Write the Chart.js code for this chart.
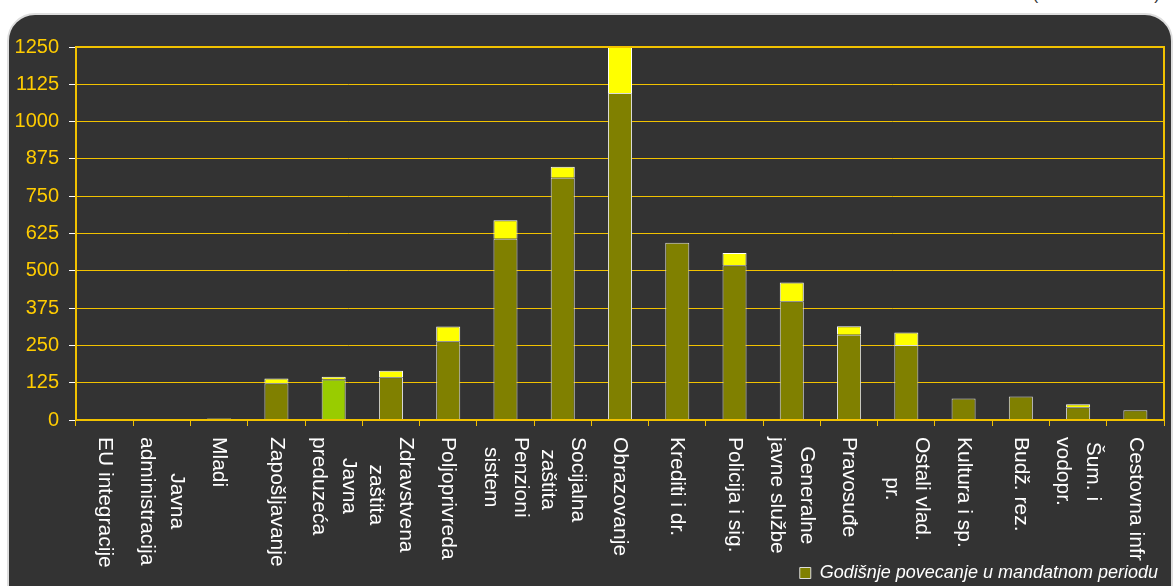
<!DOCTYPE html>
<html><head><meta charset="utf-8">
<script src="https://cdn.jsdelivr.net/npm/chart.js@4.4.1/dist/chart.umd.min.js"></script>
<style>
html,body{margin:0;padding:0;background:#fff;overflow:hidden;width:1173px;height:586px;}
#frame{position:absolute;left:7px;top:13px;width:1166px;height:620px;background:#333333;border:2px solid #dedede;border-radius:28px;box-sizing:border-box;}
#unit{position:absolute;right:13px;top:-14px;font:17px 'Liberation Sans',Arial,sans-serif;line-height:17px;color:#333;white-space:nowrap;}
#wrap{position:absolute;left:0;top:0;width:1173px;height:592px;}
</style></head>
<body>
<div id="frame"></div>
<div id="unit">(u milionima KM)</div>
<div id="wrap"><canvas id="c"></canvas></div>
<script>
// ---- data ----
const categoryLabels = [
  ['EU integracije'],
  ['Javna', 'administracija'],
  ['Mladi'],
  ['Zapošljavanje'],
  ['Javna', 'preduzeća'],
  ['Zdravstvena', 'zaštita'],
  ['Poljoprivreda'],
  ['Penzioni', 'sistem'],
  ['Socijalna', 'zaštita'],
  ['Obrazovanje'],
  ['Krediti i dr.'],
  ['Policija i sig.'],
  ['Generalne', 'javne službe'],
  ['Pravosuđe'],
  ['Ostali vlad.', 'pr.'],
  ['Kultura i sp.'],
  ['Budž. rez.'],
  ['Šum. i', 'vodopr.'],
  ['Cestovna infr']
];
const baseValues     = [0, 0, 4, 123, 136, 143, 264, 607, 812, 1096, 594, 519, 398, 286, 251, 72, 79, 43, 33];
const increaseValues = [0, 0, 2, 16, 9, 22, 49, 62, 37, 154, 0, 41, 63, 28, 42, 0, 0, 10, 0];
const yTicks = [0, 125, 250, 375, 500, 625, 750, 875, 1000, 1125, 1250];
const legendText = 'Godišnje povecanje u mandatnom periodu';
const highlightedCategory = 'Javna preduzeća';

// ---- styling ----
const FAMILY = '"Liberation Sans", Arial, sans-serif';
const GOLD = '#F2C200';
const nz = v => (v === 0 ? null : v);

const xLabelPlugin = {
  id: 'xLabels',
  afterDraw(chart) {
    const {ctx, chartArea, scales: {x}} = chart;
    ctx.save();
    ctx.font = '21px ' + FAMILY;
    ctx.fillStyle = '#ffffff';
    ctx.textAlign = 'center';
    ctx.textBaseline = 'middle';
    const lh = 30;
    categoryLabels.forEach((lines, i) => {
      const px = x.getPixelForValue(i);
      const maxW = Math.max(...lines.map(l => ctx.measureText(l).width));
      const cy = chartArea.bottom + 17 + maxW / 2;
      ctx.save();
      ctx.translate(px, cy);
      ctx.rotate(Math.PI / 2);
      lines.forEach((l, j) => ctx.fillText(l, 0, (j - (lines.length - 1) / 2) * lh));
      ctx.restore();
    });
    ctx.restore();
  }
};

const framePlugin = {
  id: 'plotFrame',
  afterDatasetsDraw(chart) {
    const {ctx, chartArea: a} = chart;
    ctx.save();
    ctx.strokeStyle = GOLD;
    ctx.lineWidth = 2;
    ctx.strokeRect(a.left, a.top, a.right - a.left, a.bottom - a.top);
    ctx.restore();
  }
};

new Chart(document.getElementById('c'), {
  type: 'bar',
  data: {
    labels: categoryLabels.map(l => l.join(' ')),
    datasets: [
      {
        label: legendText,
        data: baseValues.map(nz),
        backgroundColor: c => (c.dataIndex !== undefined && categoryLabels[c.dataIndex] && categoryLabels[c.dataIndex].join(' ') === highlightedCategory) ? '#99CC00' : '#808000',
        borderColor: '#dcdcdc',
        borderWidth: 1,
        barPercentage: 0.42,
        categoryPercentage: 1
      },
      {
        label: 'increase',
        data: increaseValues.map(nz),
        backgroundColor: '#FFFF00',
        borderColor: '#ffffff',
        borderWidth: 1,
        barPercentage: 0.42,
        categoryPercentage: 1
      }
    ]
  },
  options: {
    responsive: true,
    maintainAspectRatio: false,
    animation: false,
    devicePixelRatio: 1,
    layout: {padding: {top: 47, left: 10, right: 9, bottom: 0}},
    plugins: {
      tooltip: {enabled: false},
      legend: {
        position: 'bottom',
        align: 'end',
        labels: {
          filter: item => item.datasetIndex === 0,
          color: '#ffffff',
          font: {size: 18, style: 'italic', family: FAMILY},
          boxWidth: 11,
          boxHeight: 11,
          padding: 6
        }
      }
    },
    scales: {
      x: {
        stacked: true,
        offset: true,
        grid: {offset: true, drawOnChartArea: false, drawTicks: true, tickLength: 6, color: GOLD, tickColor: GOLD, lineWidth: 1},
        border: {display: true, color: GOLD, width: 2},
        ticks: {display: false},
        afterFit(s) { s.height = 138; }
      },
      y: {
        stacked: true,
        min: 0,
        max: 1250,
        afterBuildTicks(s) { s.ticks = yTicks.map(v => ({value: v})); },
        ticks: {color: '#FFCC00', font: {size: 20, family: FAMILY}, padding: 10, callback: v => String(v)},
        grid: {color: GOLD, tickColor: '#ffffff', tickLength: 7, lineWidth: 1},
        border: {color: GOLD, width: 2},
        afterFit(s) { s.width = 66; }
      }
    }
  },
  plugins: [xLabelPlugin, framePlugin]
});
</script>
</body></html>
